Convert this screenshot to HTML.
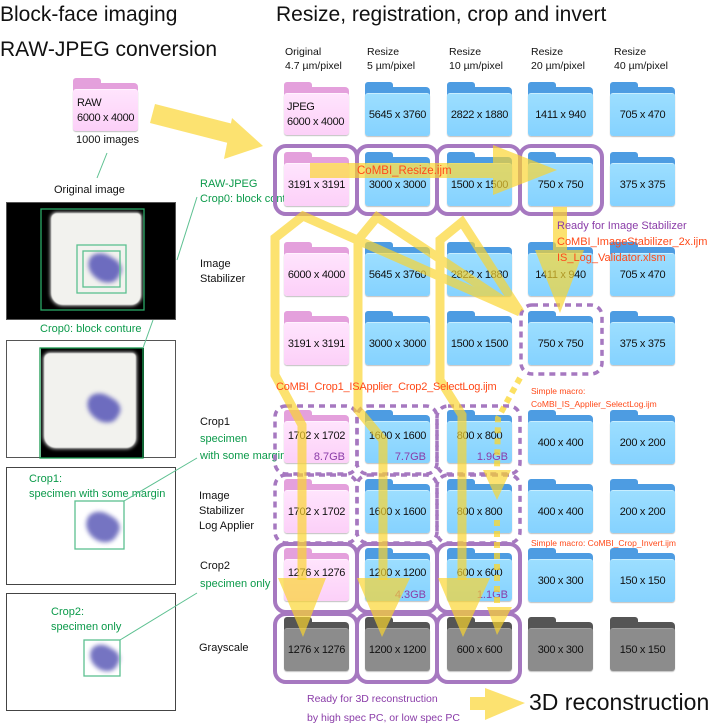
<!DOCTYPE html>
<html><head><meta charset="utf-8"><style>
body{margin:0;background:#fff;}
#c{position:relative;width:712px;height:723px;overflow:hidden;font-family:"Liberation Sans",sans-serif;color:#111;}
.t{position:absolute;white-space:nowrap;}
.f{position:absolute;width:65px;height:53px;}
.f .tab{position:absolute;left:0;top:0;width:28px;height:10px;border-radius:3px 3px 0 0;}
.f .bk{position:absolute;left:0;top:5px;width:65px;height:48px;border-radius:4px;}
.f .fr{position:absolute;left:0;top:11px;width:65px;height:42px;border-radius:3px;display:flex;align-items:center;justify-content:center;font-size:11px;letter-spacing:-0.3px;box-shadow:0 1px 1px rgba(0,0,0,.25);}
.p .tab,.p .bk{background:#e4a0dc;} .p .fr{background:linear-gradient(#ffe4fd,#fcd0f8);border-top:1px solid #fff3fe;}
.b .tab,.b .bk{background:#4d9ce2;} .b .fr{background:linear-gradient(#9cdeff,#85d2ff);border-top:1px solid #c8eeff;}
.g .tab,.g .bk{background:#555;} .g .fr{background:#8c8c8c;border-top:1px solid #a0a0a0;}
.gb{position:absolute;right:4px;bottom:0px;font-size:11px;color:#8a3ca8;}
.gr{color:#0b9a4a;} .or{color:#ff4a1a;} .pu{color:#8a3ca8;}
</style></head><body><div id="c">

<div class="t" style="left:0;top:3px;font-size:21px;">Block-face imaging</div>
<div class="t" style="left:0;top:38px;font-size:21px;">RAW-JPEG conversion</div>
<div class="t" style="left:276px;top:3px;font-size:21px;">Resize, registration, crop and invert</div>

<div class="t" style="left:285px;top:45px;font-size:10.5px;line-height:14px;">Original<br>4.7 µm/pixel</div>
<div class="t" style="left:367px;top:45px;font-size:10.5px;line-height:14px;">Resize<br>5 µm/pixel</div>
<div class="t" style="left:449px;top:45px;font-size:10.5px;line-height:14px;">Resize<br>10 µm/pixel</div>
<div class="t" style="left:531px;top:45px;font-size:10.5px;line-height:14px;">Resize<br>20 µm/pixel</div>
<div class="t" style="left:614px;top:45px;font-size:10.5px;line-height:14px;">Resize<br>40 µm/pixel</div>

<div class="f p" style="left:73px;top:78px;"><div class="tab"></div><div class="bk"></div><div class="fr" style="justify-content:flex-start;padding-left:4px;box-sizing:border-box;line-height:15px;text-align:left;">RAW<br>6000 x 4000</div></div>
<div class="t" style="left:76px;top:134px;font-size:11px;">1000 images</div>
<div class="t" style="left:54px;top:184px;font-size:11px;">Original image</div>

<div style="position:absolute;left:6px;top:202px;width:170px;height:118px;background:#000;border:1px solid #555;box-sizing:border-box;">
 <div style="position:absolute;left:44px;top:10px;width:90px;height:92px;background:#f2f2ee;border-radius:6px 4px 10px 12px;box-shadow:0 0 3px 1px #bbb;filter:blur(0.6px);"></div>
 <div style="position:absolute;left:80px;top:52px;width:34px;height:26px;background:#6d6cbf;border-radius:50% 40% 50% 60%;transform:rotate(30deg);filter:blur(2px);"></div>
</div>
<div style="position:absolute;left:6px;top:340px;width:170px;height:118px;border:1px solid #555;box-sizing:border-box;">
 <div style="position:absolute;left:34px;top:7px;width:103px;height:110px;background:#000;">
  <div style="position:absolute;left:3px;top:5px;width:92px;height:95px;background:#f2f2ee;border-radius:6px 4px 10px 12px;box-shadow:0 0 3px 1px #bbb;filter:blur(0.6px);"></div>
  <div style="position:absolute;left:45px;top:47px;width:34px;height:26px;background:#6d6cbf;border-radius:50% 40% 50% 60%;transform:rotate(30deg);filter:blur(2px);"></div>
 </div>
</div>
<div style="position:absolute;left:6px;top:467px;width:170px;height:118px;border:1px solid #444;box-sizing:border-box;">
 <div style="position:absolute;left:78px;top:45px;width:34px;height:28px;background:#7574c2;border-radius:50% 40% 50% 60%;transform:rotate(30deg);filter:blur(2px);"></div>
</div>
<div style="position:absolute;left:6px;top:593px;width:170px;height:118px;border:1px solid #444;box-sizing:border-box;">
 <div style="position:absolute;left:82px;top:52px;width:30px;height:24px;background:#7574c2;border-radius:50% 40% 50% 60%;transform:rotate(30deg);filter:blur(2px);"></div>
</div>

<div class="t gr" style="left:40px;top:323px;font-size:11px;">Crop0: block conture</div>
<div class="t gr" style="left:29px;top:472px;font-size:11px;line-height:15px;">Crop1:<br>specimen with some margin</div>
<div class="t gr" style="left:51px;top:605px;font-size:11px;line-height:15px;">Crop2:<br>specimen only</div>

<div class="t gr" style="left:200px;top:177px;font-size:11px;line-height:15px;">RAW-JPEG<br>Crop0: block conture</div>
<div class="t" style="left:200px;top:257px;font-size:11px;line-height:15px;">Image<br>Stabilizer</div>
<div class="t" style="left:200px;top:414px;font-size:11px;line-height:17px;">Crop1<br><span class="gr">specimen<br>with some margin</span></div>
<div class="t" style="left:199px;top:489px;font-size:11px;line-height:15px;">Image<br>Stabilizer<br>Log Applier</div>
<div class="t" style="left:200px;top:557px;font-size:11px;line-height:18px;">Crop2<br><span class="gr">specimen only</span></div>
<div class="t" style="left:199px;top:642px;font-size:11px;">Grayscale</div>

<div class="f p" style="left:284px;top:82px;"><div class="tab"></div><div class="bk"></div><div class="fr" style="justify-content:flex-start;padding-left:3px;box-sizing:border-box;line-height:15px;">JPEG<br>6000 x 4000</div></div>
<div class="f b" style="left:365px;top:82px;"><div class="tab"></div><div class="bk"></div><div class="fr">5645 x 3760</div></div>
<div class="f b" style="left:447px;top:82px;"><div class="tab"></div><div class="bk"></div><div class="fr">2822 x 1880</div></div>
<div class="f b" style="left:528px;top:82px;"><div class="tab"></div><div class="bk"></div><div class="fr">1411 x 940</div></div>
<div class="f b" style="left:610px;top:82px;"><div class="tab"></div><div class="bk"></div><div class="fr">705 x 470</div></div>
<div class="f p" style="left:284px;top:152px;"><div class="tab"></div><div class="bk"></div><div class="fr">3191 x 3191</div></div>
<div class="f b" style="left:365px;top:152px;"><div class="tab"></div><div class="bk"></div><div class="fr">3000 x 3000</div></div>
<div class="f b" style="left:447px;top:152px;"><div class="tab"></div><div class="bk"></div><div class="fr">1500 x 1500</div></div>
<div class="f b" style="left:528px;top:152px;"><div class="tab"></div><div class="bk"></div><div class="fr">750 x 750</div></div>
<div class="f b" style="left:610px;top:152px;"><div class="tab"></div><div class="bk"></div><div class="fr">375 x 375</div></div>
<div class="f p" style="left:284px;top:242px;"><div class="tab"></div><div class="bk"></div><div class="fr">6000 x 4000</div></div>
<div class="f b" style="left:365px;top:242px;"><div class="tab"></div><div class="bk"></div><div class="fr">5645 x 3760</div></div>
<div class="f b" style="left:447px;top:242px;"><div class="tab"></div><div class="bk"></div><div class="fr">2822 x 1880</div></div>
<div class="f b" style="left:528px;top:242px;"><div class="tab"></div><div class="bk"></div><div class="fr">1411 x 940</div></div>
<div class="f b" style="left:610px;top:242px;"><div class="tab"></div><div class="bk"></div><div class="fr">705 x 470</div></div>
<div class="f p" style="left:284px;top:311px;"><div class="tab"></div><div class="bk"></div><div class="fr">3191 x 3191</div></div>
<div class="f b" style="left:365px;top:311px;"><div class="tab"></div><div class="bk"></div><div class="fr">3000 x 3000</div></div>
<div class="f b" style="left:447px;top:311px;"><div class="tab"></div><div class="bk"></div><div class="fr">1500 x 1500</div></div>
<div class="f b" style="left:528px;top:311px;"><div class="tab"></div><div class="bk"></div><div class="fr">750 x 750</div></div>
<div class="f b" style="left:610px;top:311px;"><div class="tab"></div><div class="bk"></div><div class="fr">375 x 375</div></div>
<div class="f p" style="left:284px;top:410px;"><div class="tab"></div><div class="bk"></div><div class="fr" style="align-items:flex-start;padding-top:8px;box-sizing:border-box;">1702 x 1702</div><div class="gb">8.7GB</div></div>
<div class="f b" style="left:365px;top:410px;"><div class="tab"></div><div class="bk"></div><div class="fr" style="align-items:flex-start;padding-top:8px;box-sizing:border-box;">1600 x 1600</div><div class="gb">7.7GB</div></div>
<div class="f b" style="left:447px;top:410px;"><div class="tab"></div><div class="bk"></div><div class="fr" style="align-items:flex-start;padding-top:8px;box-sizing:border-box;">800 x 800</div><div class="gb">1.9GB</div></div>
<div class="f b" style="left:528px;top:410px;"><div class="tab"></div><div class="bk"></div><div class="fr">400 x 400</div></div>
<div class="f b" style="left:610px;top:410px;"><div class="tab"></div><div class="bk"></div><div class="fr">200 x 200</div></div>
<div class="f p" style="left:284px;top:479px;"><div class="tab"></div><div class="bk"></div><div class="fr">1702 x 1702</div></div>
<div class="f b" style="left:365px;top:479px;"><div class="tab"></div><div class="bk"></div><div class="fr">1600 x 1600</div></div>
<div class="f b" style="left:447px;top:479px;"><div class="tab"></div><div class="bk"></div><div class="fr">800 x 800</div></div>
<div class="f b" style="left:528px;top:479px;"><div class="tab"></div><div class="bk"></div><div class="fr">400 x 400</div></div>
<div class="f b" style="left:610px;top:479px;"><div class="tab"></div><div class="bk"></div><div class="fr">200 x 200</div></div>
<div class="f p" style="left:284px;top:548px;"><div class="tab"></div><div class="bk"></div><div class="fr" style="align-items:flex-start;padding-top:7px;box-sizing:border-box;">1276 x 1276</div></div>
<div class="f b" style="left:365px;top:548px;"><div class="tab"></div><div class="bk"></div><div class="fr" style="align-items:flex-start;padding-top:7px;box-sizing:border-box;">1200 x 1200</div><div class="gb">4.3GB</div></div>
<div class="f b" style="left:447px;top:548px;"><div class="tab"></div><div class="bk"></div><div class="fr" style="align-items:flex-start;padding-top:7px;box-sizing:border-box;">600 x 600</div><div class="gb">1.1GB</div></div>
<div class="f b" style="left:528px;top:548px;"><div class="tab"></div><div class="bk"></div><div class="fr">300 x 300</div></div>
<div class="f b" style="left:610px;top:548px;"><div class="tab"></div><div class="bk"></div><div class="fr">150 x 150</div></div>
<div class="f g" style="left:284px;top:617px;"><div class="tab"></div><div class="bk"></div><div class="fr">1276 x 1276</div></div>
<div class="f g" style="left:365px;top:617px;"><div class="tab"></div><div class="bk"></div><div class="fr">1200 x 1200</div></div>
<div class="f g" style="left:447px;top:617px;"><div class="tab"></div><div class="bk"></div><div class="fr">600 x 600</div></div>
<div class="f g" style="left:528px;top:617px;"><div class="tab"></div><div class="bk"></div><div class="fr">300 x 300</div></div>
<div class="f g" style="left:610px;top:617px;"><div class="tab"></div><div class="bk"></div><div class="fr">150 x 150</div></div>

<svg style="position:absolute;left:0;top:0" width="712" height="723">
 <g fill="none" stroke="#2aa866" stroke-width="1.3">
  <rect x="41" y="209" width="103" height="101"/>
  <rect x="77" y="245" width="49" height="48" stroke="#5cc090"/>
  <rect x="83" y="251" width="37" height="36" stroke="#5cc090"/>
  <rect x="40" y="348" width="103" height="110" stroke="#1a9a50"/>
  <rect x="75" y="501" width="49" height="48" stroke="#5cc090"/>
  <rect x="84" y="640" width="36" height="36" stroke="#5cc090"/>
 </g>
 <g stroke="#5cc090" stroke-width="1" fill="none">
  <line x1="107" y1="153" x2="97" y2="178"/>
  <line x1="177" y1="260" x2="197" y2="197"/>
  <line x1="143" y1="348" x2="153" y2="320"/>
  <line x1="124" y1="501" x2="197" y2="458"/>
  <line x1="120" y1="640" x2="197" y2="593"/>
 </g>
 <g fill="none" stroke="#a678c0" stroke-width="4">
  <rect x="275" y="146" width="82" height="68" rx="11"/>
  <rect x="357" y="146" width="80" height="68" rx="11"/>
  <rect x="437" y="146" width="83" height="68" rx="11"/>
  <rect x="520" y="146" width="82" height="68" rx="11"/>
  <rect x="275" y="544" width="82" height="68" rx="11"/>
  <rect x="357" y="544" width="80" height="68" rx="11"/>
  <rect x="437" y="544" width="83" height="68" rx="11"/>
  <rect x="275" y="614" width="82" height="68" rx="11"/>
  <rect x="357" y="614" width="80" height="68" rx="11"/>
  <rect x="437" y="614" width="83" height="68" rx="11"/>
 </g>
 <g fill="none" stroke="#a678c0" stroke-width="3.5" stroke-dasharray="6 5">
  <rect x="521" y="305" width="81" height="69" rx="11"/>
  <rect x="275" y="406" width="82" height="68" rx="11"/>
  <rect x="357" y="406" width="80" height="68" rx="11"/>
  <rect x="437" y="406" width="83" height="68" rx="11"/>
  <rect x="275" y="475" width="82" height="68" rx="11"/>
  <rect x="357" y="475" width="80" height="68" rx="11"/>
  <rect x="437" y="475" width="83" height="68" rx="11"/>
 </g>
 <g opacity="0.68" fill="#fbd52e" stroke="none">
  <polygon points="155,104 237,125 232,144 150,123"/>
  <polygon points="263,146 232,118 224,159"/>
  <rect x="310" y="163" width="183" height="15"/>
  <polygon points="493,145 557,170 493,195"/>
  <rect x="553" y="207" width="14" height="43"/>
  <polygon points="535,250 560,313 584,250"/>
  <polygon points="278,578 303,637 326,578"/>
  <polygon points="357,578 382,637 410,578"/>
  <polygon points="438,578 463,637 490,578"/>
  <polygon points="483,470 497,500 511,470"/>
  <polygon points="487,607 497,635 512,607"/>
  <rect x="470" y="697" width="18" height="13"/>
  <polygon points="485,688 525,703 485,720"/>
 </g>
 <g opacity="0.68" fill="none" stroke="#fbd52e" stroke-width="9" stroke-linejoin="miter">
  <path d="M520,312 L303,216 L275,238 L275,375 L302,425 L302,580"/>
  <path d="M520,312 L377,217 L358,240 L358,410 L383,440 L383,580"/>
  <path d="M520,312 L462,222 L440,240 L440,380 L462,415 L462,580"/>
 </g>
 <g opacity="0.75" fill="none" stroke="#fbd52e" stroke-width="6" stroke-dasharray="6 5">
  <path d="M520,378 L498,418 L497,470"/>
  <path d="M497,520 L497,608"/>
 </g>
</svg>

<div class="t or" style="left:357px;top:165px;font-size:11.5px;">CoMBI_Resize.ijm</div>
<div class="t" style="left:557px;top:218px;font-size:11px;line-height:16px;"><span class="pu">Ready for Image Stabilizer</span><br><span class="or">CoMBI_ImageStabilizer_2x.ijm<br>IS_Log_Validator.xlsm</span></div>
<div class="t or" style="left:276px;top:381px;font-size:11px;letter-spacing:-0.2px;">CoMBI_Crop1_ISApplier_Crop2_SelectLog.ijm</div>
<div class="t or" style="left:531px;top:385px;font-size:8.5px;line-height:13px;">Simple macro:<br>CoMBI_IS_Applier_SelectLog.ijm</div>
<div class="t or" style="left:531px;top:538px;font-size:8.5px;">Simple macro: CoMBI_Crop_Invert.ijm</div>
<div class="t pu" style="left:307px;top:690px;font-size:10.5px;line-height:19px;">Ready for 3D reconstruction<br>by high spec PC, or low spec PC</div>
<div class="t" style="left:529px;top:689px;font-size:23px;">3D reconstruction</div>

</div></body></html>
